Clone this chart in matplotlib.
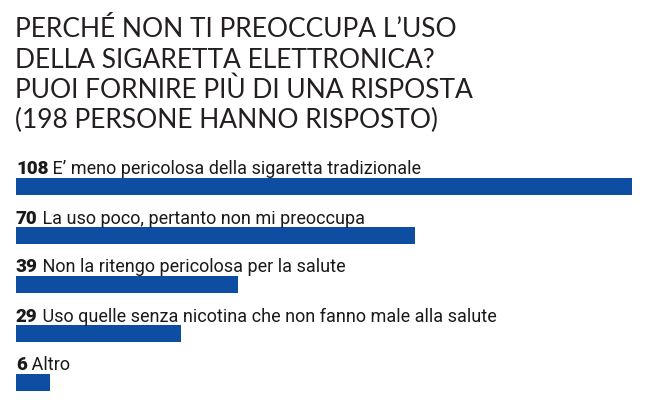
import matplotlib
matplotlib.use("Agg")
import matplotlib.pyplot as plt

title_lines = [
    "PERCHÉ NON TI PREOCCUPA L’USO",
    "DELLA SIGARETTA ELETTRONICA?",
    "PUOI FORNIRE PIÙ DI UNA RISPOSTA",
    "(198 PERSONE HANNO RISPOSTO)",
]
categories = [
    "E’ meno pericolosa della sigaretta tradizionale",
    "La uso poco, pertanto non mi preoccupa",
    "Non la ritengo pericolosa per la salute",
    "Uso quelle senza nicotina che non fanno male alla salute",
    "Altro",
]
values = [108, 70, 39, 29, 6]

W, H = 650, 414
fig = plt.figure(figsize=(W / 100, H / 100), dpi=100)
fig.patch.set_facecolor("white")

# title
baselines = [37, 68, 98, 128]
for line, yb in zip(title_lines, baselines):
    fig.text(15 / W, 1 - yb / H, line, fontsize=19, family="Lato",
             fontweight="normal", color="#231f20", va="baseline", ha="left")

# bars
x0, x1 = 16, 632
row0, step = 187.5, 49
n = len(values)
top_px = row0 - step / 2
bot_px = row0 + step * (n - 0.5)
ax = fig.add_axes([x0 / W, 1 - bot_px / H, (x1 - x0) / W, (bot_px - top_px) / H])
ax.set_xlim(0, max(values))
ax.set_ylim(n - 0.5, -0.5)
ax.axis("off")

bar_h = 17 / step
ax.barh(range(n), values, height=bar_h, color="#0e4ea2", align="center")

gap = 4.5 / step
for i, (v, c) in enumerate(zip(values, categories)):
    yb = i - bar_h / 2 - gap
    t = ax.text(0, yb, str(v), fontsize=13.5, family="Roboto", fontweight="heavy",
                color="#1a1a1a", va="baseline", ha="left")
    ax.annotate(" " + c, xy=(1, 0), xycoords=t, fontsize=13, family="Roboto",
                color="#1a1a1a", va="bottom", ha="left")

fig.savefig("out.png", dpi=100, facecolor="white")
